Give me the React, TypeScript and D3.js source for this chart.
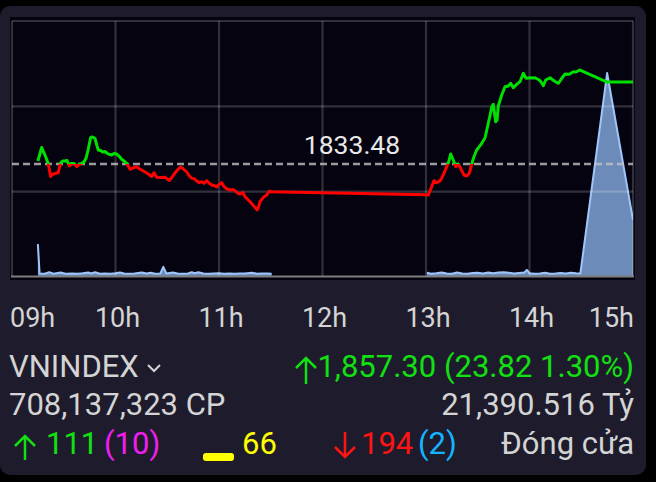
import React from 'react';
import * as d3 from 'd3';

// ---- data ----
const timeTickLabels = ['09h', '10h', '11h', '12h', '13h', '14h', '15h'];
const timeTickMinutes = [0, 60, 120, 180, 240, 300, 360];
const refValue = 1833.48;
const refLabel = '1833.48';

// minutes after 09:00
const priceMinutes = [
  15, 17.2, 19.1, 21.0, 22.4, 23.8, 25.2, 26.8, 28.2, 29.3, 30.7, 31.9, 33.2, 34.4, 35.9, 37.5, 38.8, 40.4, 41.7, 42.9,
  44.1, 45.6, 46.7, 48.1, 49.3, 50.0, 51.4, 52.6, 53.9, 55.2, 56.8, 57.8, 59.1, 60.7, 62.0, 63.6, 64.9, 66.5, 68.4, 70.1,
  72.3, 73.6, 75.2, 77.1, 79.0, 81.0, 82.3, 83.9, 86.4, 88.7, 91.2, 92.8, 94.5, 96.2, 97.7, 99.1, 101.3, 102.6, 104.2, 105.5,
  107.1, 108.4, 110.0, 111.3, 112.9, 114.2, 115.8, 117.1, 118.7, 120.0, 121.6, 122.9, 124.1, 126.4, 128.1, 129.3, 131.0, 132.2, 133.9, 135.1,
  138.0, 140.9, 142.2, 142.9, 143.8, 145.7, 147.7, 148.4, 149.2, 150.0,
  240, 241.4, 243.3, 244.6, 246.2, 247.5, 248.5, 250.0, 251.6, 252.9, 254.3, 255.8, 257.2, 258.7, 260.1, 262.0, 263.6, 265.1, 266.5, 267.8,
  269.4, 270.9, 272.3, 274.2, 275.5, 276.8, 278.1, 279.0, 280.4, 281.2, 281.9, 283.9, 285.8, 287.7, 289.1, 290.6, 292.6, 294.5, 296.4, 298.0,
  300.3, 302.0, 303.2, 305.7, 306.7, 308.0, 309.4, 311.9, 313.6, 314.8, 316.7, 318.7, 320.6, 323.1, 325.4, 327.0, 329.0, 345, 360,
];
const priceValues = [
  1834.35, 1838.27, 1836.09, 1833.63, 1829.85, 1830.58, 1830.72, 1831.01, 1833.77, 1834.35, 1834.35, 1834.50, 1832.90, 1833.63, 1833.63, 1832.75, 1833.33, 1833.68, 1834.06, 1835.14,
  1837.55, 1841.18, 1841.32, 1840.89, 1838.71, 1837.55, 1837.40, 1836.97, 1837.11, 1836.59, 1836.24, 1836.09, 1836.53, 1836.38, 1835.80, 1834.85, 1834.35, 1833.68, 1831.94, 1832.32,
  1832.70, 1832.17, 1831.74, 1831.16, 1830.58, 1829.85, 1830.95, 1829.62, 1829.56, 1829.62, 1828.69, 1829.70, 1830.87, 1831.88, 1832.61, 1832.17, 1831.16, 1830.14, 1829.33, 1829.27,
  1828.54, 1828.11, 1828.34, 1827.87, 1828.63, 1827.96, 1827.38, 1827.23, 1826.80, 1827.52, 1828.05, 1826.94, 1826.36, 1825.93, 1826.07, 1825.72, 1824.91, 1824.77, 1825.20, 1823.98,
  1822.53, 1820.84, 1820.12, 1820.99, 1822.53, 1823.81, 1824.47, 1825.06, 1825.64, 1825.40,
  1824.53, 1824.47, 1826.89, 1828.63, 1828.05, 1828.40, 1828.83, 1830.28, 1832.23, 1833.68, 1836.38, 1834.64, 1832.70, 1833.48, 1832.23, 1830.28, 1829.99, 1830.78, 1833.48, 1835.60,
  1837.55, 1838.51, 1839.49, 1841.03, 1843.94, 1846.84, 1850.04, 1850.82, 1845.77, 1846.26, 1850.33, 1853.52, 1855.93, 1856.14, 1856.92, 1855.64, 1856.63, 1857.39, 1859.83, 1858.38,
  1858.55, 1858.46, 1858.55, 1857.88, 1857.30, 1856.23, 1857.88, 1858.55, 1857.88, 1857.45, 1856.92, 1858.38, 1859.62, 1859.54, 1860.29, 1860.21, 1860.79, 1857.30, 1857.30,
];

// volume (million shares), morning session
const volAmMinutes = [
  15, 16, 19, 21.6, 24, 28.2, 31, 35, 38, 41, 44.2, 46, 48.1, 51, 54, 57, 60, 62.6, 65, 68,
  71, 75.2, 78, 80.4, 83, 86, 87.7, 89.5, 93.2, 96, 99, 102, 104.2, 106, 108, 111, 114, 117, 120, 123,
  126, 129, 132, 135, 139, 142, 145, 148, 150.5,
];
const volAmValues = [
  12.5, 1.0, 0.9, 1.5, 0.9, 1.4, 0.9, 1.0, 0.9, 1.1, 1.4, 1.0, 1.5, 0.9, 1.0, 0.9, 1.1, 1.4, 1.0, 0.9,
  1.0, 1.4, 1.0, 1.3, 0.9, 1.0, 3.6, 1.0, 1.4, 1.0, 0.9, 1.0, 1.5, 1.1, 1.5, 1.0, 0.9, 1.0, 1.1, 0.9,
  1.0, 0.9, 1.0, 1.0, 1.3, 0.9, 1.0, 1.0, 0.9,
];
// volume, afternoon session + ATC
const volPmMinutes = [
  240.5, 243, 246, 249, 252, 255, 258, 261, 264, 267, 270, 273, 276, 279, 282, 285, 288, 291, 294, 297,
  298.5, 300, 303, 306, 309, 312, 315, 318, 321, 324, 327, 329.5, 345, 360,
];
const volPmValues = [
  1.3, 0.9, 1.1, 1.4, 1.0, 0.9, 1.4, 1.0, 0.9, 1.2, 1.3, 1.0, 1.4, 1.1, 1.4, 1.5, 1.3, 1.0, 1.2, 1.4,
  2.4, 1.1, 0.9, 1.0, 1.3, 0.9, 1.0, 1.2, 1.0, 1.3, 1.1, 1.0, 79.6, 22,
];

const indexName = 'VNINDEX';
const indexChange = '1,857.30 (23.82 1.30%)';
const volumeText = '708,137,323 CP';
const valueText = '21,390.516 Tỷ';
const advances = '111';
const ceilings = '(10)';
const unchanged = '66';
const declines = '194';
const floors = '(2)';
const statusText = 'Đóng cửa';

const FONT = 'Roboto, "Noto Sans", sans-serif';
const GRAY = '#d4d4d4';
const GREEN = '#12e012';
const RED = '#ff1414';
const ROW_FS = 31;

export default function App() {
  const W = 656;
  const H = 482;
  const left = 12, right = 633, top = 21, bottom = 277;

  const x = d3.scaleLinear().domain([0, 360]).range([left, right]);
  const y = d3.scaleLinear().domain([1800.66, 1875.02]).range([bottom, top]);
  const yv = d3.scaleLinear().domain([0, 100]).range([276, top]);

  const pricePts: [number, number][] = priceMinutes.map((m, i) => [m, priceValues[i]]);
  const line = d3.line<[number, number]>().x(d => x(d[0])).y(d => y(d[1]));
  const pricePath = line(pricePts) || '';

  const vLine = d3.line<[number, number]>().x(d => x(d[0])).y(d => yv(d[1]));
  const vArea = d3.area<[number, number]>().x(d => x(d[0])).y0(yv(0)).y1(d => yv(d[1]));
  const am: [number, number][] = volAmMinutes.map((m, i) => [m, volAmValues[i]]);
  const pm: [number, number][] = volPmMinutes.map((m, i) => [m, volPmValues[i]]);

  const yRef = y(refValue);
  const hLines = d3.range(4).map(i => top + (i * (bottom - top)) / 3);

  return (
    <svg width={W} height={H} style={{ position: 'fixed', left: 0, top: 0, background: '#000' }} fontFamily={FONT}>
      <defs>
        <clipPath id="plotClip"><rect x={left} y={top - 2} width={right - left} height={bottom - top + 2} /></clipPath>
        <clipPath id="aboveClip"><rect x={0} y={0} width={W} height={yRef} /></clipPath>
        <clipPath id="belowClip"><rect x={0} y={yRef} width={W} height={H - yRef} /></clipPath>
      </defs>
      <rect x={0} y={0} width={W} height={H} fill="#000" />
      <rect x={0} y={6} width={646} height={469} rx={10} fill="#1e1c2c" />
      <rect x={10} y={17} width={625} height={263} fill="#04030f" />

      {/* volume */}
      <g clipPath="url(#plotClip)">
        {[am, pm].map((pts, i) => (
          <g key={i}>
            <path d={vArea(pts) || ''} fill="rgba(140,178,232,0.78)" />
            <path d={vLine(pts) || ''} fill="none" stroke="#9fc6fa" strokeWidth={2} strokeLinejoin="round" />
          </g>
        ))}
      </g>

      {/* grid */}
      {timeTickMinutes.map(m => (
        <line key={m} x1={x(m)} x2={x(m)} y1={top} y2={bottom} stroke="rgba(255,255,255,0.18)" strokeWidth={2.2} />
      ))}
      {hLines.slice(0, 3).map(v => (
        <line key={v} x1={left} x2={right} y1={v} y2={v} stroke="rgba(255,255,255,0.18)" strokeWidth={2.2} />
      ))}
      <line x1={left - 1} x2={right + 1} y1={bottom - 0.5} y2={bottom - 0.5} stroke="#7e7e7e" strokeWidth={2} />

      {/* reference */}
      <line x1={left} x2={right} y1={yRef} y2={yRef} stroke="rgba(195,195,195,0.8)" strokeWidth={2.5} strokeDasharray="7,4" />
      <text x={352} y={154} fontSize={26.5} fill="#e8e8e8" textAnchor="middle">{refLabel}</text>

      {/* price line */}
      <path d={pricePath} fill="none" stroke="#00e000" strokeWidth={3} strokeLinejoin="round" clipPath="url(#aboveClip)" />
      <path d={pricePath} fill="none" stroke="#ff0000" strokeWidth={3} strokeLinejoin="round" clipPath="url(#belowClip)" />

      {/* time labels */}
      {timeTickLabels.map((t, i) => {
        const last = i === timeTickLabels.length - 1;
        const first = i === 0;
        return (
          <text key={t} x={first ? 10 : last ? 634 : x(timeTickMinutes[i]) + 2} y={327} fontSize={27} fill={GRAY}
            textAnchor={first ? 'start' : last ? 'end' : 'middle'}>{t}</text>
        );
      })}

      {/* row 1 */}
      <text x={9} y={377} fontSize={ROW_FS} fill={GRAY}>{indexName}</text>
      <path d="M148,365 L154,371 L160,365" fill="none" stroke={GRAY} strokeWidth={2} />
      <path d="M306,384 L306,358 M296,368 L306,358 L316,368" fill="none" stroke={GREEN} strokeWidth={2.5} />
      <text x={634} y={377} fontSize={ROW_FS} fill={GREEN} textAnchor="end">{indexChange}</text>

      {/* row 2 */}
      <text x={9} y={415} fontSize={ROW_FS} fill={GRAY}>{volumeText}</text>
      <text x={634} y={415} fontSize={ROW_FS} fill={GRAY} textAnchor="end">{valueText}</text>

      {/* row 3 */}
      <path d="M25,460 L25,436 M15,446 L25,436 L35,446" fill="none" stroke={GREEN} strokeWidth={2.5} />
      <text x={46} y={454} fontSize={ROW_FS} fill={GREEN}>{advances}</text>
      <text x={104} y={454} fontSize={ROW_FS} fill="#f01ef0">{ceilings}</text>
      <rect x={203} y={453} width={31} height={8} rx={3} fill="#ffff00" />
      <text x={242} y={454} fontSize={ROW_FS} fill="#ffff00">{unchanged}</text>
      <path d="M345,432 L345,457 M335,447 L345,457 L355,447" fill="none" stroke={RED} strokeWidth={2.5} />
      <text x={361} y={454} fontSize={ROW_FS} fill={RED}>{declines}</text>
      <text x={418} y={454} fontSize={ROW_FS} fill="#14b4ff">{floors}</text>
      <text x={634} y={454} fontSize={ROW_FS} fill={GRAY} textAnchor="end">{statusText}</text>
    </svg>
  );
}
